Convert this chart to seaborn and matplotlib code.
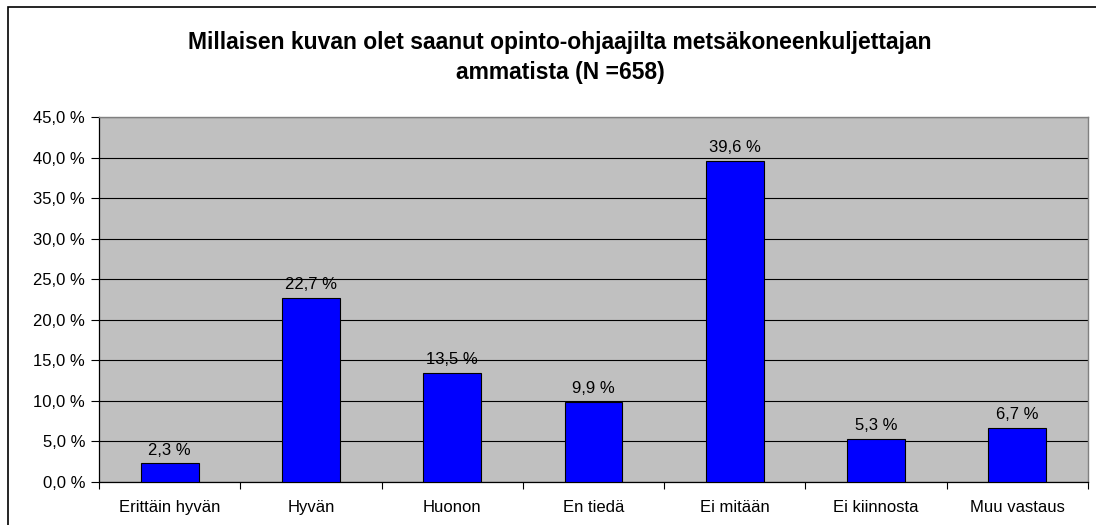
import matplotlib
matplotlib.use("Agg")
import matplotlib.pyplot as plt
import seaborn as sns
import pandas as pd
from matplotlib.patches import Rectangle

categories = ["Erittäin hyvän", "Hyvän", "Huonon", "En tiedä", "Ei mitään", "Ei kiinnosta", "Muu vastaus"]
values = [2.3, 22.7, 13.5, 9.9, 39.6, 5.3, 6.7]
yticks = [0, 5, 10, 15, 20, 25, 30, 35, 40, 45]
title_lines = ["Millaisen kuvan olet saanut opinto-ohjaajilta metsäkoneenkuljettajan",
               "ammatista (N =658)"]

sns.set_theme(style="white")
plt.rcParams['font.family'] = ['Liberation Sans', 'DejaVu Sans']
plt.rcParams['text.color'] = 'black'
plt.rcParams['xtick.color'] = 'black'
plt.rcParams['ytick.color'] = 'black'
plt.rcParams['axes.labelcolor'] = 'black'

df = pd.DataFrame({"cat": categories, "val": values})

fig = plt.figure(figsize=(10.96, 5.25), dpi=100)
W, H = 1096, 525
ax = fig.add_axes([99 / W, (H - 482) / H, (1088 - 99) / W, (482 - 117) / H])

sns.barplot(data=df, x="cat", y="val", order=categories, color="#0000FF",
            saturation=1, width=0.41, edgecolor="black", linewidth=0.8, ax=ax, zorder=3)

ax.set_facecolor("#C0C0C0")
ax.set_ylim(0, 45)
ax.set_xlim(-0.5, len(categories) - 0.5)
ax.set_yticks(yticks)
ax.set_yticklabels([f"{v:.1f}".replace(".", ",") + " %" for v in yticks], fontsize=12, color="black")
ax.yaxis.grid(True, color="black", linewidth=0.8, zorder=0)
ax.set_axisbelow(True)
ax.set_xlabel("")
ax.set_ylabel("")
ax.tick_params(axis="y", direction="out", length=6, width=0.8, color="black", labelcolor="black", pad=4, left=True)
ax.tick_params(axis="x", which="major", length=0, pad=13, labelsize=12, labelcolor="black")
ax.set_xticks([i - 0.5 for i in range(len(categories) + 1)], minor=True)
ax.tick_params(axis="x", which="minor", direction="out", length=5, width=0.8, color="black", bottom=True)

for s in ["left", "bottom"]:
    ax.spines[s].set_color("black")
    ax.spines[s].set_linewidth(0.9)
for s in ["top", "right"]:
    ax.spines[s].set_color("#808080")
    ax.spines[s].set_linewidth(1.0)

for i, v in enumerate(values):
    ax.annotate(f"{v:.1f}".replace(".", ",") + " %", (i, v), xytext=(0, 4),
                textcoords="offset points", ha="center", va="bottom", fontsize=12, color="black")

fig.text(560 / W, 1 - 43 / H, title_lines[0], ha="center", va="center", fontsize=16.5,
         fontweight="bold", color="black")
fig.text(560 / W, 1 - 72 / H, title_lines[1], ha="center", va="center", fontsize=16.5,
         fontweight="bold", color="black")

fig.patches.append(Rectangle((8 / W, -0.1), 1.2, 1 - 7 / H + 0.1, transform=fig.transFigure,
                             fill=False, edgecolor="black", linewidth=1.2, figure=fig))

fig.savefig("out.png", dpi=100)
